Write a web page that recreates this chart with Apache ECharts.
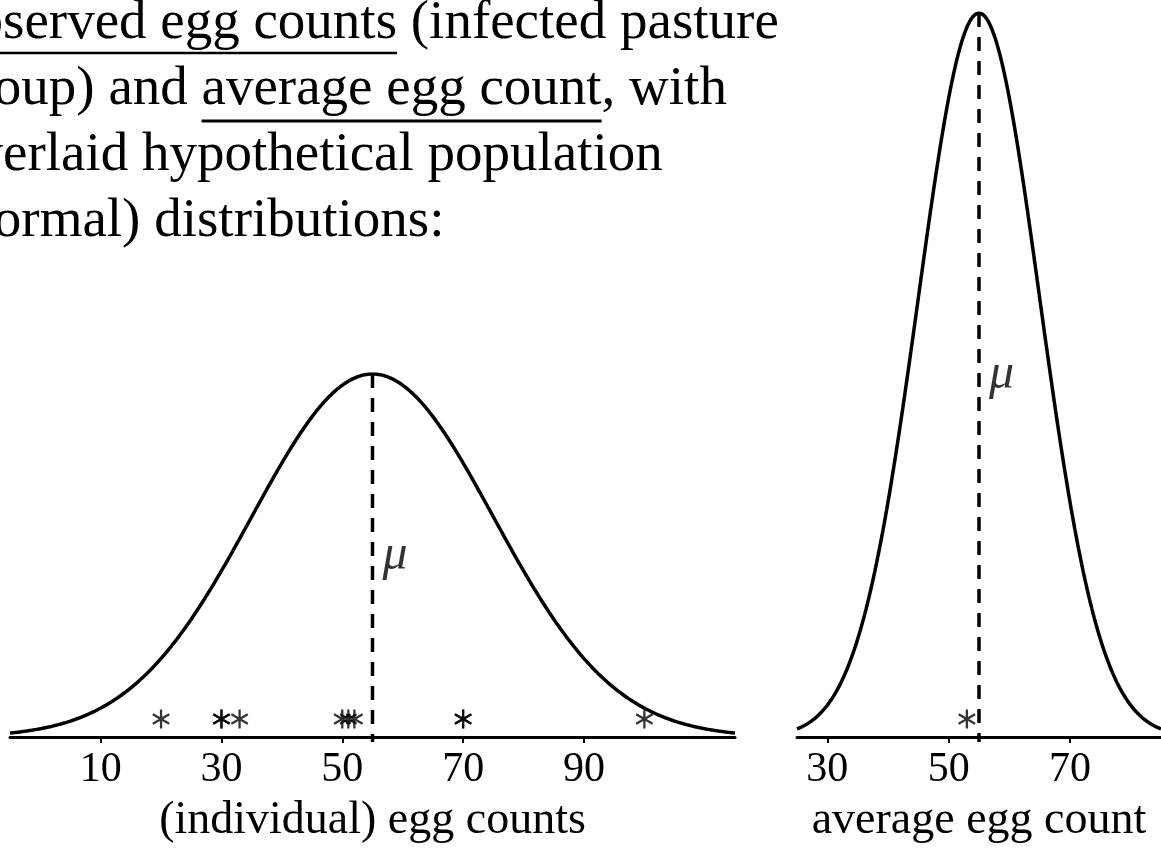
<!DOCTYPE html>
<html>
<head>
<meta charset="utf-8">
<style>
    html, body { margin: 0; padding: 0; background: #fff; }
    #chart { width: 1161px; height: 855px; }
</style>
<script src="https://cdn.jsdelivr.net/npm/echarts@6/dist/echarts.min.js"></script>
</head>
<body>
<div id="chart"></div>
<script>
// observed egg counts (infected pasture group), one star each
var eggCounts = [20, 30, 30, 33, 50, 51, 52, 70, 70, 100];
// the average egg count, star on the right panel
var avgCount = [53];

// hypothetical population (normal) distributions
var popMean = 55;
var popSd = 20;   // individual counts
var avgSd = 10;   // average count

// axis ranges and tick labels
var leftRange = [-5, 115];
var rightRange = [25, 85];
var leftTicks = [10, 30, 50, 70, 90];
var rightTicks = [30, 50, 70];

var textLines = [
    'observed egg counts (infected pasture',
    'group) and average egg count, with',
    'overlaid hypothetical population',
    '(normal) distributions:'
];

var SERIF = '"Liberation Serif", "Times New Roman", serif';
var INK = '#000';

function normalPdf(x, mu, sd) {
    var z = (x - mu) / sd;
    return Math.exp(-0.5 * z * z) / (sd * Math.sqrt(2 * Math.PI));
}

function normalCurve(mu, sd, range) {
    var pts = [];
    var steps = 300;
    for (var i = 0; i <= steps; i++) {
        var x = range[0] + (range[1] - range[0]) * i / steps;
        pts.push([x, normalPdf(x, mu, sd)]);
    }
    return pts;
}

// six-armed asterisk like the TeX \ast
var starPath = 'path://M-6,-50L6,-50L6,50L-6,50Z' +
    'M40.3,-30.2L46.3,-19.8L-40.3,30.2L-46.3,19.8Z' +
    'M46.3,19.8L40.3,30.2L-46.3,-19.8L-40.3,-30.2Z';

var peakL = normalPdf(popMean, popMean, popSd);
var peakR = normalPdf(popMean, popMean, avgSd);
// a little room under zero so ticks / mean line reach below the axis
var padL = peakL * 5 / 363;
var padR = peakR * 5 / 724;

// text widths for the underlines
var FONT_TOP = '55px ' + SERIF;
var ctx = document.createElement('canvas').getContext('2d');
ctx.font = FONT_TOP;
function tw(s) { return ctx.measureText(s).width; }
var textX = -52;

function xAxisFor(idx, range, ticks, name) {
    return {
        gridIndex: idx,
        type: 'value',
        min: range[0],
        max: range[1],
        name: name,
        nameLocation: 'middle',
        nameGap: 56,
        nameTextStyle: { color: INK, fontFamily: SERIF, fontSize: 46 },
        axisLine: { onZero: true, lineStyle: { color: INK, width: 3 } },
        axisTick: { show: true, customValues: ticks, length: 6, lineStyle: { color: INK, width: 2 } },
        axisLabel: { customValues: ticks, color: INK, fontFamily: SERIF, fontSize: 42, margin: 7 },
        splitLine: { show: false }
    };
}

function yAxisFor(idx, peak, pad) {
    return { gridIndex: idx, type: 'value', min: -pad, max: peak, show: false };
}

function panelSeries(idx, sd, range, peak, pad, stars) {
    return [
        {
            type: 'line', xAxisIndex: idx, yAxisIndex: idx,
            data: normalCurve(popMean, sd, range),
            showSymbol: false, silent: true,
            lineStyle: { color: INK, width: 3.5 }
        },
        {
            type: 'line', xAxisIndex: idx, yAxisIndex: idx,
            data: [[popMean, peak], [popMean, -pad]],
            showSymbol: false, silent: true,
            lineStyle: { color: INK, width: 3.5, type: [14, 10] }
        },
        {
            type: 'scatter', xAxisIndex: idx, yAxisIndex: idx,
            data: [[popMean, peak / 2]],
            symbolSize: 0, silent: true,
            label: {
                show: true, position: 'right', distance: 10,
                formatter: 'μ', color: INK, fontFamily: SERIF,
                fontStyle: 'italic', fontSize: 50
            }
        },
        {
            type: 'scatter', xAxisIndex: idx, yAxisIndex: idx,
            data: stars.map(function (v) { return [v, 0]; }),
            symbol: starPath, symbolKeepAspect: true, symbolSize: 19,
            symbolOffset: [0, -18], silent: true,
            itemStyle: { color: INK }
        }
    ];
}

var myChart = echarts.init(document.getElementById('chart'), null, { renderer: 'canvas' });

var option = {
    backgroundColor: '#fff',
    animation: false,
    grid: [
        { left: 10, right: 426, top: 374, bottom: 113 },
        { left: 797, right: 0, top: 13, bottom: 113 }
    ],
    xAxis: [
        xAxisFor(0, leftRange, leftTicks, '(individual) egg counts'),
        xAxisFor(1, rightRange, rightTicks, 'average egg count')
    ],
    yAxis: [
        yAxisFor(0, peakL, padL),
        yAxisFor(1, peakR, padR)
    ],
    series: panelSeries(0, popSd, leftRange, peakL, padL, eggCounts)
        .concat(panelSeries(1, avgSd, rightRange, peakR, padR, avgCount)),
    graphic: [
        {
            type: 'text', left: textX, top: -9, silent: true,
            style: {
                text: textLines.join('\n'),
                font: FONT_TOP,
                lineHeight: 66,
                fill: INK
            }
        },
        {
            type: 'line', silent: true,
            shape: { x1: textX, y1: 53, x2: textX + tw('observed egg counts'), y2: 53 },
            style: { stroke: INK, lineWidth: 2.5 }
        },
        {
            type: 'line', silent: true,
            shape: { x1: textX + tw('group) and '), y1: 121, x2: textX + tw('group) and average egg count'), y2: 121 },
            style: { stroke: INK, lineWidth: 3 }
        }
    ]
};

myChart.setOption(option);
</script>
</body>
</html>
